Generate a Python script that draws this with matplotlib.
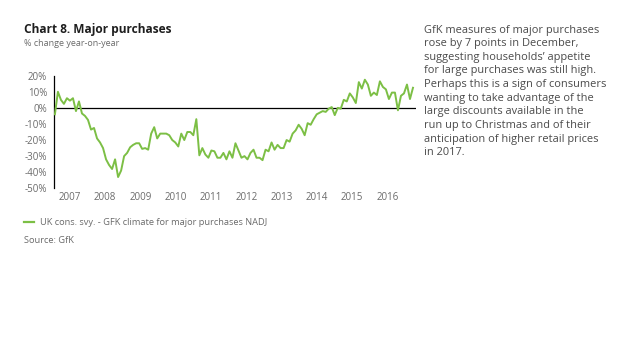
import matplotlib
matplotlib.use("Agg")
import matplotlib.pyplot as plt
import numpy as np

plt.rcParams['font.family'] = ['Open Sans', 'DejaVu Sans']

# Monthly values Jan 2007 - Dec 2016 (% change year-on-year)
values = [
    -4, 10, 5, 2.5, 6, 4.5, 6, -2, 4, -3.5, -5, -7.5,
    -13.5, -12.5, -19, -21.5, -25, -32, -35.5, -38, -32, -43, -39, -30,
    -28, -24.5, -23, -22, -22, -25.5, -25, -26, -16, -12, -19, -16,
    -16, -16, -17, -20, -21.5, -24, -16, -20, -15, -15, -17, -7,
    -29.5, -25, -29, -31, -26.5, -27, -31, -31, -28, -32, -27, -31,
    -22, -26.5, -31, -30, -32, -28, -26, -31, -31, -32.5, -26, -27,
    -21.5, -26, -23, -25, -25, -20, -21, -16, -14, -10.5, -13, -17,
    -9.5, -10.5, -7, -4, -3, -2, -2.5, -0.5, 0.5, -4.5, 0, -0.5,
    5, 4, 9, 6.5, 3, 16, 12, 17.5, 14.5, 7.5, 9.5, 8,
    16.5, 13, 11.5, 5.5, 9.5, 9.5, -1.5, 7.5, 9, 14.5, 5.5, 12.5,
]
years = ['2007', '2008', '2009', '2010', '2011', '2012', '2013', '2014', '2015', '2016']
y_ticks = [20, 10, 0, -10, -20, -30, -40, -50]
y_labels = ['20%', '10%', '0%', '-10%', '-20%', '-30%', '-40%', '-50%']
series_name = 'UK cons. svy. - GFK climate for major purchases NADJ'

green = '#7CBF45'
gray = '#6b6b6b'

W, H = 638, 359
fig = plt.figure(figsize=(W / 100, H / 100), dpi=100)
fig.patch.set_facecolor('white')

left, right = 54, 416
top, bottom = 75.7, 188.3
ax = fig.add_axes([left / W, 1 - bottom / H, (right - left) / W, (bottom - top) / H])

x = np.arange(len(values))
ax.plot(x, values, color=green, lw=1.4, solid_joinstyle='round', zorder=3)
ax.axhline(0, color='black', lw=0.9, zorder=2)

ax.set_xlim(-0.3, 120)
ax.set_ylim(-50, 20)
for s in ['top', 'right', 'bottom']:
    ax.spines[s].set_visible(False)
ax.spines['left'].set_color('black')
ax.spines['left'].set_linewidth(0.9)

ax.set_yticks(y_ticks)
ax.set_yticklabels(y_labels)
tick_pos = np.linspace(5, 110.5, len(years))
ax.set_xticks(tick_pos)
ax.set_xticklabels(years)
ax.tick_params(axis='both', length=0, labelsize=7, labelcolor=gray)
ax.tick_params(axis='y', pad=5)
ax.tick_params(axis='x', pad=2.5)
ax.patch.set_alpha(0)

# Title and subtitle
fig.text(24 / W, 1 - 29 / H, 'Chart 8. Major purchases', fontsize=8.6, fontweight='bold',
         color='#1e1e1e', va='center', ha='left')
fig.text(24 / W, 1 - 43 / H, '% change year-on-year', fontsize=6.5, color=gray,
         va='center', ha='left')

# Legend
fig.add_artist(plt.Line2D([24 / W, 34 / W], [1 - 222 / H, 1 - 222 / H], color=green, lw=1.6))
fig.text(40 / W, 1 - 222.5 / H, series_name, fontsize=6.65, color=gray, va='center', ha='left')
fig.text(24 / W, 1 - 240.5 / H, 'Source: GfK', fontsize=6.65, color=gray, va='center', ha='left')

# Commentary
comment = ("GfK measures of major purchases\n"
           "rose by 7 points in December,\n"
           "suggesting households\u2019 appetite\n"
           "for large purchases was still high.\n"
           "Perhaps this is a sign of consumers\n"
           "wanting to take advantage of the\n"
           "large discounts available in the\n"
           "run up to Christmas and of their\n"
           "anticipation of higher retail prices\n"
           "in 2017.")
fig.text(424 / W, 1 - 24.5 / H, comment, fontsize=7.9, color='#4a4a4a', va='top', ha='left',
         linespacing=1.33)

fig.savefig('out.png', dpi=100, facecolor='white')
